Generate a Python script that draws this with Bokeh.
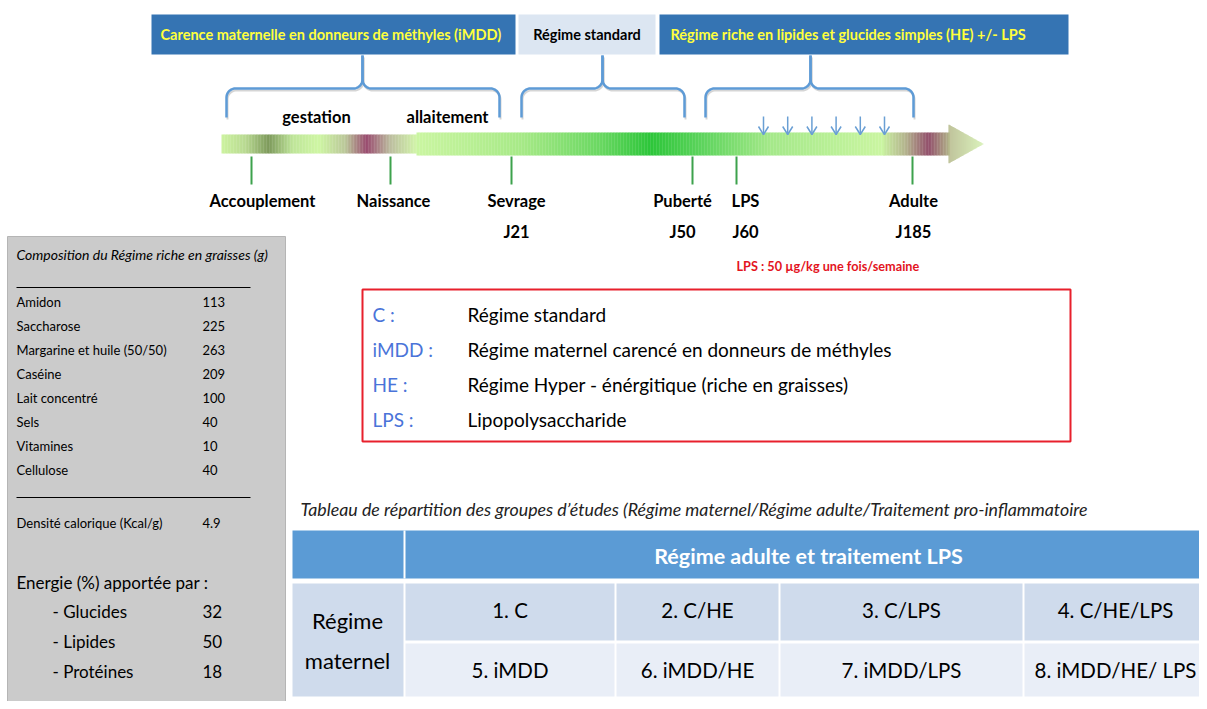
import numpy as np
from bokeh.plotting import figure
from bokeh.models import Range1d
from bokeh.core.properties import value
from bokeh.embed import file_html
from bokeh.resources import INLINE

FONT = "Lato"

# ---------------- data ----------------
banner_labels = ["Carence maternelle en donneurs de méthyles (iMDD)",
                 "Régime standard",
                 "Régime riche en lipides et glucides simples (HE) +/- LPS"]
phase_labels = ["gestation", "allaitement"]
milestones = ["Accouplement", "Naissance", "Sevrage", "Puberté", "LPS", "Adulte"]
milestone_days = ["", "", "J21", "J50", "J60", "J185"]
lps_note = "LPS : 50 µg/kg une fois/semaine"
lps_injections = 6
diet_title = "Composition du Régime riche en graisses (g)"
diet_items = ["Amidon", "Saccharose", "Margarine et huile (50/50)", "Caséine",
              "Lait concentré", "Sels", "Vitamines", "Cellulose"]
diet_grams = [113, 225, 263, 209, 100, 40, 10, 40]
density_label = "Densité calorique (Kcal/g)"
density_value = 4.9
energy_title = "Energie (%) apportée par :"
energy_sources = ["Glucides", "Lipides", "Protéines"]
energy_pct = [32, 50, 18]
abbrev = ["C :", "iMDD :", "HE :", "LPS :"]
abbrev_desc = ["Régime standard",
               "Régime maternel carencé en donneurs de méthyles",
               "Régime Hyper - énérgitique (riche en graisses)",
               "Lipopolysaccharide"]
table_caption = ("Tableau de répartition des groupes d’études (Régime maternel/"
                 "Régime adulte/Traitement pro-inflammatoire")
table_header = "Régime adulte et traitement LPS"
row_header = ["Régime", "maternel"]
groups_c = ["1. C", "2. C/HE", "3. C/LPS", "4. C/HE/LPS"]
groups_imdd = ["5. iMDD", "6. iMDD/HE", "7. iMDD/LPS", "8. iMDD/HE/ LPS"]

# ---------------- figure ----------------
W, H = 1199, 701
p = figure(width=W, height=H, x_range=Range1d(0, W), y_range=Range1d(H, 0),
           output_backend="svg", toolbar_location=None, min_border=0,
           x_axis_location=None, y_axis_location=None, outline_line_color=None)
p.xgrid.grid_line_color = None
p.ygrid.grid_line_color = None
p.background_fill_color = "white"


def txt(xs, ys, texts, size, color="black", style="normal", align="left", baseline="middle"):
    p.text(x=xs, y=ys, text=texts, text_font=value(FONT), text_font_size=value(f"{size}px"),
           text_color=color, text_font_style=style, text_align=align, text_baseline=baseline)


def hexrgb(c):
    return [int(c[i:i + 2], 16) for i in (1, 3, 5)]


def ramp(stops, xs):
    sx = [s[0] for s in stops]
    rgb = np.array([hexrgb(c) for _, c in stops], dtype=float)
    out = []
    for x in xs:
        r, g, b = (np.interp(x, sx, rgb[:, k]) for k in range(3))
        out.append("#%02x%02x%02x" % (int(r), int(g), int(b)))
    return out

# ---------------- banners ----------------
ban_l = [151, 518, 659]
ban_r = [515, 655, 1068]
p.quad(left=ban_l, right=ban_r, top=14, bottom=54,
       fill_color=["#3574B3", "#DCE6F2", "#3574B3"], line_color=None)
txt([ban_l[0] + 9], [34], [banner_labels[0]], 14.5, "#FFFF3C", "bold")
txt([(ban_l[1] + ban_r[1]) / 2], [34], [banner_labels[1]], 14.5, "black", "bold", "center")
txt([ban_l[2] + 11], [34], [banner_labels[2]], 14.5, "#FFFF3C", "bold")

# ---------------- braces ----------------
def brace_half(xend, xc, s, yh, ytop, ybot, r=9):
    t = np.linspace(0, np.pi / 2, 12)
    xs = [xend, xend] + list(xend + s * (r - r * np.cos(t))) + [xc - s * r] \
        + list(xc - s * r + s * r * np.sin(t)) + [xc]
    ys = [ybot, yh + r] + list(yh + r - r * np.sin(t)) + [yh] \
        + list(yh - r + r * np.cos(t)) + [ytop]
    return xs, ys

braces = [(226, 499, 362), (521, 684, 602), (705, 913, 810)]
bx, by = [], []
for xl, xr, xc in braces:
    for xend, s in ((xl, 1), (xr, -1)):
        a, b = brace_half(xend, xc, s, 88, 55, 117)
        bx.append(a)
        by.append(b)
p.multi_line([[v + 1 for v in a] for a in bx], [[v + 2 for v in b] for b in by],
             line_color="#D5D5D5", line_width=2)
p.multi_line(bx, by, line_color="#5E9BD6", line_width=2.5)

# ---------------- timeline arrow ----------------
step = 1.5
seg1 = np.arange(221, 416, step)
c1 = ramp([(221, "#CDF3A0"), (245, "#B9DA92"), (268, "#7E9A5C"), (292, "#BFE59A"),
           (318, "#CFF7A4"), (345, "#BBC79A"), (366, "#9A4C70"), (390, "#BDBFA0"),
           (416, "#D2F5AA")], seg1 + step / 2)
p.quad(left=seg1, right=seg1 + step + 0.3, top=134, bottom=153, fill_color=c1, line_color=None)

seg2 = np.arange(416, 883, step)
c2 = ramp([(416, "#CBF6A2"), (520, "#A8EA88"), (600, "#6AD862"), (650, "#2DC63A"),
           (700, "#5CD45C"), (770, "#A5E98A"), (883, "#CBF6A2")], seg2 + step / 2)
p.quad(left=seg2, right=seg2 + step + 0.3, top=132, bottom=155, fill_color=c2, line_color=None)

seg3 = np.arange(883, 948, step)
c3 = ramp([(883, "#C8EDA0"), (905, "#B4B48E"), (928, "#93506C"), (948, "#B0B088")],
          seg3 + step / 2)
p.quad(left=seg3, right=seg3 + step + 0.3, top=132, bottom=155, fill_color=c3, line_color=None)

head = np.arange(948, 983, 1.0)
hh = 19.5 * (983 - (head + 0.5)) / 35
c4 = ramp([(948, "#B5B98A"), (983, "#D4F0B0")], head + 0.5)
p.quad(left=head, right=head + 1.2, top=143.5 - hh, bottom=143.5 + hh, fill_color=c4, line_color=None)

# LPS weekly injections
ax = np.linspace(763, 884, lps_injections)
p.segment(x0=ax, y0=116, x1=ax, y1=134, line_color="#6A9FD4", line_width=1.5)
p.multi_line([[x - 5, x, x + 5] for x in ax], [[126, 134, 126] for _ in ax],
             line_color="#6A9FD4", line_width=1.5)

# milestones
tick_x = [251, 390, 511, 692, 736, 912]
label_x = [262, 393, 516, 682, 745, 913]
p.segment(x0=tick_x, y0=156, x1=tick_x, y1=184, line_color="#3DA24C", line_width=2)
txt(label_x, [200] * len(milestones), milestones, 16.5, "black", "bold", "center")
dx = [x for x, d in zip(label_x, milestone_days) if d]
txt(dx, [231] * len(dx), [d for d in milestone_days if d], 16.5, "black", "bold", "center")
txt([316, 447], [116, 116], phase_labels, 16.5, "black", "bold", "center")
txt([736], [265], [lps_note], 12.7, "#E3141E", "bold")

# ---------------- diet composition box ----------------
p.quad(left=7, right=285, top=236, bottom=701, fill_color="#CBCBCB", line_color="#B5B5B5")
txt([16], [254], [diet_title], 14, "black", "italic")
p.segment(x0=[16, 16], y0=[287, 497], x1=[250, 250], y1=[287, 497], line_color="black", line_width=1)
ry = [301 + 24 * i for i in range(len(diet_items))]
txt([16] * len(diet_items), ry, diet_items, 13)
txt([202] * len(diet_items), ry, [str(v) for v in diet_grams], 13)
txt([16], [522], [density_label], 13)
txt([202], [522], [str(density_value)], 13)
txt([16], [582], [energy_title], 17)
ey = [611 + 30 * i for i in range(len(energy_sources))]
txt([52] * 3, ey, ["- " + s for s in energy_sources], 17)
txt([202] * 3, ey, [str(v) for v in energy_pct], 17)

# ---------------- abbreviations box ----------------
p.quad(left=362, right=1070, top=289, bottom=441, fill_color=None,
       line_color="#E8202C", line_width=2)
ly = [314 + 35 * i for i in range(len(abbrev))]
txt([372] * 4, ly, abbrev, 19, "#4A74D9")
txt([467] * 4, ly, abbrev_desc, 19, "black")

# ---------------- groups table ----------------
txt([300], [508], [table_caption], 17.8, "#222222", "italic")
p.quad(left=292, right=1207, top=530, bottom=578, fill_color="#5B9BD5", line_color=None)
p.segment(x0=[404], y0=[530], x1=[404], y1=[578], line_color="white", line_width=2)
txt([808], [555], [table_header], 21.5, "white", "bold", "center")
p.quad(left=292, right=403, top=583, bottom=696, fill_color="#CFDBEC", line_color=None)
cb = [404, 615, 779, 1023, 1207]
lefts = [c + 1 for c in cb[:-1]]
rights = [c - 1 for c in cb[1:]]
p.quad(left=lefts, right=rights, top=583, bottom=640, fill_color="#CFDBEC", line_color=None)
p.quad(left=lefts, right=rights, top=643, bottom=696, fill_color="#E9EEF7", line_color=None)
cx = [(a + b) / 2 for a, b in zip(cb[:-1], cb[1:])]
txt(cx, [609] * 4, groups_c, 20.5, "black", "normal", "center")
txt(cx, [669] * 4, groups_imdd, 20.5, "black", "normal", "center")
txt([347, 347], [620, 660], row_header, 22, "black", "normal", "center")

open("out.html", "w").write(file_html(p, INLINE))
